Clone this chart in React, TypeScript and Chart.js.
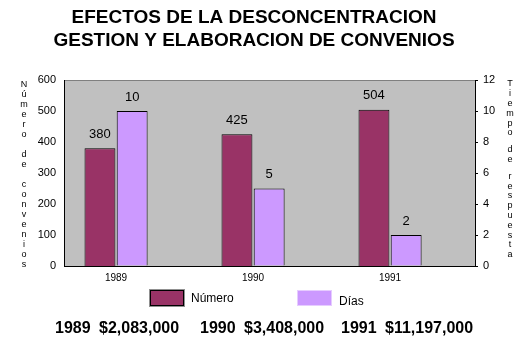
import React, { useEffect, useRef } from "react";
import { Chart, registerables } from "chart.js";

Chart.register(...registerables);

const years = [1989, 1990, 1991];
const numero = [380, 425, 504];
const dias = [10, 5, 2];
const titleLines = ["EFECTOS DE LA DESCONCENTRACION", "GESTION Y ELABORACION DE CONVENIOS"];
const leftTitle = "Número de convenios";
const rightTitle = "Tiempo de respuesta";
const seriesNames = ["Número", "Días"];
const budgetYears = ["1989", "1990", "1991"];
const budgets = ["$2,083,000", "$3,408,000", "$11,197,000"];

const FONT = '"Liberation Sans", Arial, sans-serif';
const C_NUM = "#993366";
const C_DIAS = "#cc99ff";

const decorPlugin = {
  id: "decor",
  beforeDraw(chart: any) {
    const { ctx, chartArea } = chart;
    const { left, top, right, bottom } = chartArea;
    ctx.save();
    ctx.fillStyle = "#fff";
    ctx.fillRect(0, 0, chart.width, chart.height);
    ctx.fillStyle = "#c0c0c0";
    ctx.fillRect(left, top, right - left, bottom - top);
    ctx.strokeStyle = "#808080";
    ctx.lineWidth = 1;
    ctx.beginPath();
    ctx.moveTo(left, top + 0.5);
    ctx.lineTo(right, top + 0.5);
    ctx.stroke();
    ctx.restore();
  },
  afterDraw(chart: any) {
    const { ctx } = chart;
    ctx.save();
    // title
    ctx.fillStyle = "#000";
    ctx.textAlign = "center";
    ctx.textBaseline = "middle";
    ctx.font = `bold 19px ${FONT}`;
    ctx.fillText(titleLines[0], 254, 18);
    ctx.fillText(titleLines[1], 254, 41);

    // vertical axis titles (stacked letters)
    ctx.font = `9px ${FONT}`;
    let y = 85;
    for (const ch of leftTitle) {
      if (ch !== " ") ctx.fillText(ch, 24, y);
      y += 10;
    }
    y = 84;
    for (const ch of rightTitle) {
      if (ch === " ") {
        y += 7;
        continue;
      }
      ctx.fillText(ch, 510, y);
      y += 9.8;
    }

    // legend
    ctx.fillStyle = C_NUM;
    ctx.fillRect(150, 290, 34, 16);
    ctx.strokeStyle = "#000";
    ctx.lineWidth = 1;
    ctx.strokeRect(150.5, 290.5, 33, 15);
    ctx.strokeStyle = "#909090";
    ctx.strokeRect(149.5, 289.5, 35, 17);
    ctx.fillStyle = C_DIAS;
    ctx.fillRect(297, 290, 35, 16);
    ctx.strokeStyle = "#e6ccff";
    ctx.strokeRect(297.5, 290.5, 34, 15);
    ctx.fillStyle = "#000";
    ctx.textAlign = "left";
    ctx.font = `12px ${FONT}`;
    ctx.fillText(seriesNames[0], 191, 299);
    ctx.fillText(seriesNames[1], 339, 302);

    // budget line
    ctx.font = `bold 16px ${FONT}`;
    ctx.textBaseline = "alphabetic";
    const starts = [55, 200, 341];
    budgetYears.forEach((yr, i) => {
      ctx.fillText(yr, starts[i], 333);
      ctx.fillText(budgets[i], starts[i] + 44, 333);
    });
    ctx.restore();
  },
  afterDatasetsDraw(chart: any) {
    const { ctx } = chart;
    ctx.save();
    ctx.fillStyle = "#000";
    ctx.font = `13px ${FONT}`;
    ctx.textAlign = "center";
    ctx.textBaseline = "middle";
    chart.data.datasets.forEach((ds: any, di: number) => {
      const meta = chart.getDatasetMeta(di);
      meta.data.forEach((el: any, i: number) => {
        ctx.fillText(String(ds.data[i].y), el.x, el.y - 14);
      });
    });
    ctx.restore();
  },
};

export default function App() {
  const ref = useRef<HTMLCanvasElement | null>(null);
  useEffect(() => {
    if (!ref.current) return;
    const chart = new Chart(ref.current, {
      type: "bar",
      data: {
        datasets: [
          {
            label: seriesNames[0],
            data: years.map((x, i) => ({ x, y: numero[i] })),
            backgroundColor: C_NUM,
            borderColor: "#000",
            borderWidth: 1,
            yAxisID: "y",
            categoryPercentage: 0.47,
            barPercentage: 0.96,
          },
          {
            label: seriesNames[1],
            data: years.map((x, i) => ({ x, y: dias[i] })),
            backgroundColor: C_DIAS,
            borderColor: "#000",
            borderWidth: 1,
            yAxisID: "y1",
            categoryPercentage: 0.47,
            barPercentage: 0.96,
          },
        ] as any,
      },
      options: {
        responsive: false,
        animation: false,
        layout: { padding: { top: 80, left: 0, right: 0, bottom: 0 } },
        plugins: { legend: { display: false }, tooltip: { enabled: false }, title: { display: false } },
        scales: {
          x: {
            type: "linear",
            offset: false,
            min: 1988.62,
            max: 1991.62,
            afterBuildTicks: (scale: any) => {
              scale.ticks = years.map((v) => ({ value: v }));
            },
            afterFit: (scale: any) => {
              scale.height = 71;
            },
            grid: { display: false, drawTicks: false, offset: false },
            border: { display: true, color: "#000", width: 1 },
            ticks: {
              callback: (v: any) => String(v),
              font: { family: FONT, size: 10 },
              color: "#000",
              padding: 6,
              maxRotation: 0,
              autoSkip: false,
            },
          },
          y: {
            position: "left",
            min: 0,
            max: 600,
            ticks: { stepSize: 100, font: { family: FONT, size: 11 }, color: "#000", padding: 8 },
            grid: { display: false, drawTicks: false },
            border: { display: true, color: "#000", width: 1 },
            afterFit: (scale: any) => {
              scale.width = 64;
            },
          },
          y1: {
            position: "right",
            min: 0,
            max: 12,
            ticks: { stepSize: 2, font: { family: FONT, size: 11 }, color: "#000", padding: 5 },
            grid: { display: true, drawOnChartArea: false, drawTicks: true, tickLength: 3, color: "#000" },
            border: { display: true, color: "#000", width: 1 },
            afterFit: (scale: any) => {
              scale.width = 42;
            },
          },
        },
      } as any,
      plugins: [decorPlugin],
    });
    return () => chart.destroy();
  }, []);
  return (
    <div style={{ position: "fixed", left: 0, top: 0, width: 517, height: 337, background: "#fff" }}>
      <canvas ref={ref} width={517} height={337} style={{ display: "block" }} />
    </div>
  );
}
